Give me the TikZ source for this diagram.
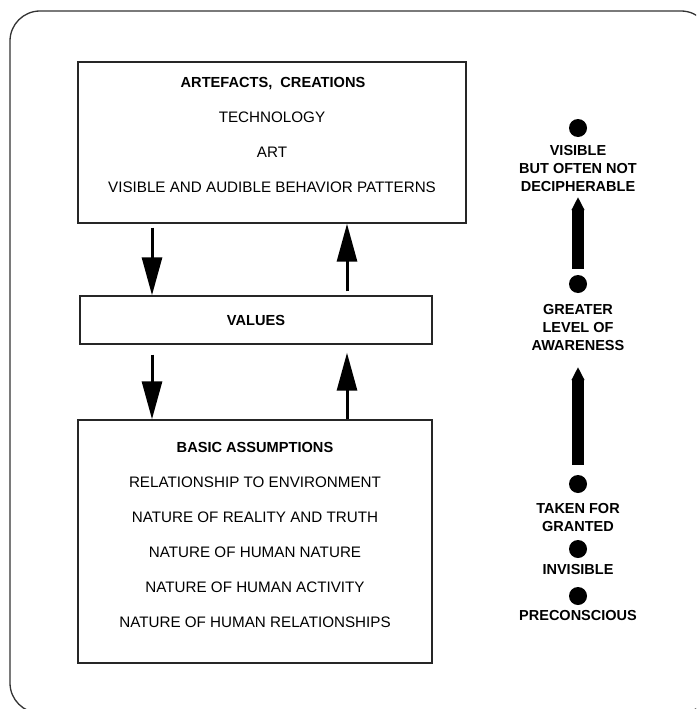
\documentclass[tikz,border=0pt]{standalone}
\usepackage{fontspec}
\setmainfont{Liberation Sans}
\usetikzlibrary{arrows.meta}
\begin{document}
\begin{tikzpicture}[x=1pt,y=-1pt,
  every node/.style={font=\fontsize{15.2}{18}\selectfont, inner sep=0pt},
  frame/.style={draw=black!80, line width=1.3pt},
  layerbox/.style={draw=black!85, line width=1.4pt, rectangle, minimum width=#1},
  hd/.style={font=\fontsize{14.6}{18}\selectfont\bfseries},
  flow/.style={line width=3pt, -{Triangle[width=20pt,length=38pt]}},
  dot/.style={circle, fill=black, minimum size=18pt},
  side/.style={font=\fontsize{14.5}{18}\selectfont\bfseries, align=center},
  rise/.style={line width=12pt, -{Triangle[width=12pt,length=13pt]}}
]
\useasboundingbox (0,0) rectangle (696,709);
\clip (0,0) rectangle (696,709);
\fill[white] (0,0) rectangle (696,709);

% outer rounded frame
\draw[frame, rounded corners=30pt] (10,11) rectangle (711,713);

% the three layers
\node[layerbox=388pt, minimum height=161pt] (art) at (272,142.5) {};
\node[layerbox=352pt, minimum height=48pt]  (val) at (256,320) {};
\node[layerbox=354pt, minimum height=243pt] (bas) at (255,541.5) {};

% layer texts
\node[hd, anchor=base] (artT) at (273,87.5) {ARTEFACTS,\ \ CREATIONS};
\node[anchor=base] (tech) at (272,122.5) {TECHNOLOGY};
\node[anchor=base] (arts) at (272,157.5) {ART};
\node[anchor=base] (beh)  at (272,192.5) {VISIBLE AND AUDIBLE BEHAVIOR PATTERNS};

\node[hd, anchor=base] (valT) at (256,325) {VALUES};

\node[hd, anchor=base] (basT) at (255,452.5) {BASIC ASSUMPTIONS};
\node[anchor=base] (b1) at (255,487.5) {RELATIONSHIP TO ENVIRONMENT};
\node[anchor=base] (b2) at (255,522.5) {NATURE OF REALITY AND TRUTH};
\node[anchor=base] (b3) at (255,557.5) {NATURE OF HUMAN NATURE};
\node[anchor=base] (b4) at (255,592.5) {NATURE OF HUMAN ACTIVITY};
\node[anchor=base] (b5) at (255,627.5) {NATURE OF HUMAN RELATIONSHIPS};

% arrows between layers
\coordinate (dn) at (152,0);
\coordinate (up) at (347,0);
\draw[flow, shorten <=4pt] (dn |- art.south) -- (dn |- val.north);
\draw[flow, shorten <=4pt] (up |- val.north) -- (up |- art.south);
\draw[flow, shorten <=10pt] (dn |- val.south) -- (dn |- bas.north);
\draw[flow, shorten >=8pt] (up |- bas.north) -- (up |- val.south);

% awareness scale (base anchor = baseline of the last line)
\node[dot] (d1) at (578,128) {};
\node[side, anchor=base] (s1) at (578,191) {VISIBLE\\BUT OFTEN NOT\\DECIPHERABLE};
\node[dot] (d2) at (578,284) {};
\node[side, anchor=base] (s2) at (578,350) {GREATER\\LEVEL OF\\AWARENESS};
\node[dot] (d3) at (578,484) {};
\node[side, anchor=base] (s3) at (578,531) {TAKEN FOR\\GRANTED};
\node[dot] (d4) at (578,549) {};
\node[side, anchor=base] (s4) at (578,574) {INVISIBLE};
\node[dot] (d5) at (578,596) {};
\node[side, anchor=base] (s5) at (578,620) {PRECONSCIOUS};

\coordinate (t1) at (578,197);
\coordinate (t2) at (578,367);
\draw[rise, shorten <=6pt] (d2.north) -- (t1);
\draw[rise, shorten <=10pt] (d3.north) -- (t2);
\end{tikzpicture}
\end{document}
